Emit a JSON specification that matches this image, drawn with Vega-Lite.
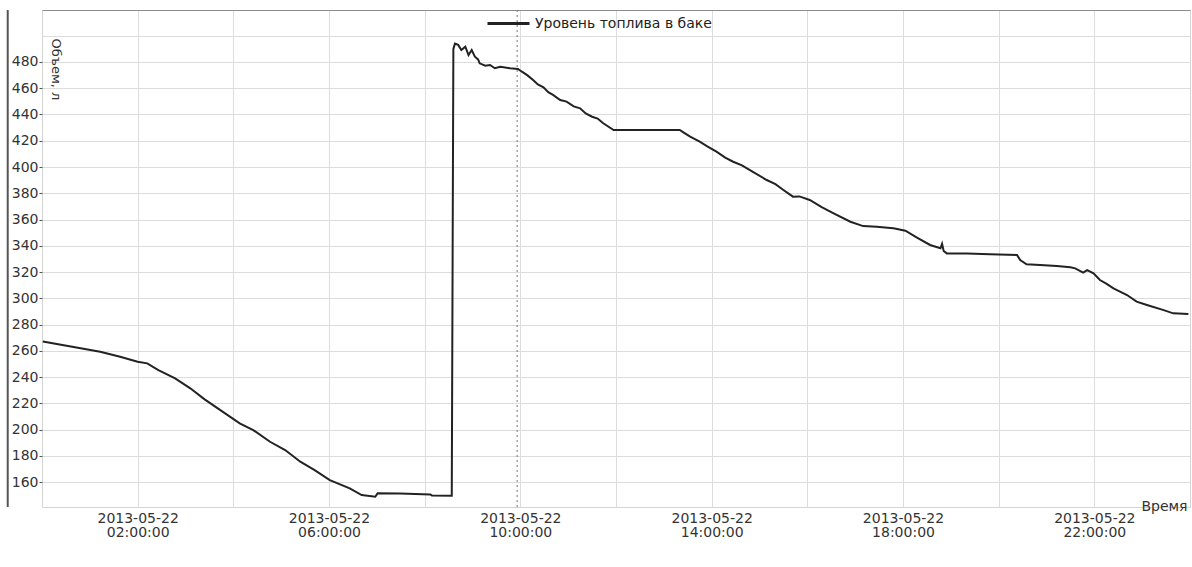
{
  "$schema": "https://vega.github.io/schema/vega-lite/v6.json",
  "width": 1148,
  "height": 497,
  "autosize": "none",
  "padding": {"left": 42, "top": 10, "right": 2, "bottom": 60},
  "background": "white",
  "config": {"view": {"stroke": "#d4d4d4"}, "font": "DejaVu Sans"},
  "layer": [
    {
      "data": {"values": [
        {"t": "2013-05-22T00:01:00", "v": 267.0, "s": "Уровень топлива в баке"},
        {"t": "2013-05-22T01:13:00", "v": 259.3, "s": "Уровень топлива в баке"},
        {"t": "2013-05-22T01:38:00", "v": 255.5, "s": "Уровень топлива в баке"},
        {"t": "2013-05-22T02:00:00", "v": 251.7, "s": "Уровень топлива в баке"},
        {"t": "2013-05-22T02:12:00", "v": 250.4, "s": "Уровень топлива в баке"},
        {"t": "2013-05-22T02:26:00", "v": 245.3, "s": "Уровень топлива в баке"},
        {"t": "2013-05-22T02:47:00", "v": 239.0, "s": "Уровень топлива в баке"},
        {"t": "2013-05-22T03:06:00", "v": 231.4, "s": "Уровень топлива в баке"},
        {"t": "2013-05-22T03:24:00", "v": 223.0, "s": "Уровень топлива в баке"},
        {"t": "2013-05-22T04:08:00", "v": 204.7, "s": "Уровень топлива в баке"},
        {"t": "2013-05-22T04:25:00", "v": 199.6, "s": "Уровень топлива в баке"},
        {"t": "2013-05-22T04:46:00", "v": 190.7, "s": "Уровень топлива в баке"},
        {"t": "2013-05-22T05:05:00", "v": 184.4, "s": "Уровень топлива в баке"},
        {"t": "2013-05-22T05:24:00", "v": 175.5, "s": "Уровень топлива в баке"},
        {"t": "2013-05-22T05:42:00", "v": 169.1, "s": "Уровень топлива в баке"},
        {"t": "2013-05-22T06:01:00", "v": 161.5, "s": "Уровень топлива в баке"},
        {"t": "2013-05-22T06:26:00", "v": 155.2, "s": "Уровень топлива в баке"},
        {"t": "2013-05-22T06:41:00", "v": 150.1, "s": "Уровень топлива в баке"},
        {"t": "2013-05-22T06:58:00", "v": 148.8, "s": "Уровень топлива в баке"},
        {"t": "2013-05-22T07:01:00", "v": 151.4, "s": "Уровень топлива в баке"},
        {"t": "2013-05-22T07:29:00", "v": 151.2, "s": "Уровень топлива в баке"},
        {"t": "2013-05-22T08:07:00", "v": 150.6, "s": "Уровень топлива в баке"},
        {"t": "2013-05-22T08:09:00", "v": 149.8, "s": "Уровень топлива в баке"},
        {"t": "2013-05-22T08:34:00", "v": 149.6, "s": "Уровень топлива в баке"},
        {"t": "2013-05-22T08:36:00", "v": 490.0, "s": "Уровень топлива в баке"},
        {"t": "2013-05-22T08:38:00", "v": 494.0, "s": "Уровень топлива в баке"},
        {"t": "2013-05-22T08:42:00", "v": 493.0, "s": "Уровень топлива в баке"},
        {"t": "2013-05-22T08:46:00", "v": 489.1, "s": "Уровень топлива в баке"},
        {"t": "2013-05-22T08:51:00", "v": 491.7, "s": "Уровень топлива в баке"},
        {"t": "2013-05-22T08:55:00", "v": 485.3, "s": "Уровень топлива в баке"},
        {"t": "2013-05-22T08:59:00", "v": 489.1, "s": "Уровень топлива в баке"},
        {"t": "2013-05-22T09:03:00", "v": 484.0, "s": "Уровень топлива в баке"},
        {"t": "2013-05-22T09:07:00", "v": 482.0, "s": "Уровень топлива в баке"},
        {"t": "2013-05-22T09:09:00", "v": 479.0, "s": "Уровень топлива в баке"},
        {"t": "2013-05-22T09:16:00", "v": 477.2, "s": "Уровень топлива в баке"},
        {"t": "2013-05-22T09:22:00", "v": 477.7, "s": "Уровень топлива в баке"},
        {"t": "2013-05-22T09:28:00", "v": 475.2, "s": "Уровень топлива в баке"},
        {"t": "2013-05-22T09:35:00", "v": 476.4, "s": "Уровень топлива в баке"},
        {"t": "2013-05-22T09:47:00", "v": 475.2, "s": "Уровень топлива в баке"},
        {"t": "2013-05-22T09:57:00", "v": 474.7, "s": "Уровень топлива в баке"},
        {"t": "2013-05-22T10:02:00", "v": 472.6, "s": "Уровень топлива в баке"},
        {"t": "2013-05-22T10:09:00", "v": 469.8, "s": "Уровень топлива в баке"},
        {"t": "2013-05-22T10:16:00", "v": 466.3, "s": "Уровень топлива в баке"},
        {"t": "2013-05-22T10:22:00", "v": 462.9, "s": "Уровень топлива в баке"},
        {"t": "2013-05-22T10:29:00", "v": 460.7, "s": "Уровень топлива в баке"},
        {"t": "2013-05-22T10:35:00", "v": 457.0, "s": "Уровень топлива в баке"},
        {"t": "2013-05-22T10:41:00", "v": 454.9, "s": "Уровень топлива в баке"},
        {"t": "2013-05-22T10:50:00", "v": 451.0, "s": "Уровень топлива в баке"},
        {"t": "2013-05-22T10:58:00", "v": 449.8, "s": "Уровень топлива в баке"},
        {"t": "2013-05-22T11:07:00", "v": 446.2, "s": "Уровень топлива в баке"},
        {"t": "2013-05-22T11:15:00", "v": 444.7, "s": "Уровень топлива в баке"},
        {"t": "2013-05-22T11:22:00", "v": 440.8, "s": "Уровень топлива в баке"},
        {"t": "2013-05-22T11:30:00", "v": 438.3, "s": "Уровень топлива в баке"},
        {"t": "2013-05-22T11:37:00", "v": 436.9, "s": "Уровень топлива в баке"},
        {"t": "2013-05-22T11:44:00", "v": 433.3, "s": "Уровень топлива в баке"},
        {"t": "2013-05-22T11:57:00", "v": 428.2, "s": "Уровень топлива в баке"},
        {"t": "2013-05-22T13:20:00", "v": 428.2, "s": "Уровень топлива в баке"},
        {"t": "2013-05-22T13:25:00", "v": 426.2, "s": "Уровень топлива в баке"},
        {"t": "2013-05-22T13:33:00", "v": 423.1, "s": "Уровень топлива в баке"},
        {"t": "2013-05-22T13:45:00", "v": 419.3, "s": "Уровень топлива в баке"},
        {"t": "2013-05-22T13:55:00", "v": 415.6, "s": "Уровень топлива в баке"},
        {"t": "2013-05-22T14:06:00", "v": 411.7, "s": "Уровень топлива в баке"},
        {"t": "2013-05-22T14:17:00", "v": 407.2, "s": "Уровень топлива в баке"},
        {"t": "2013-05-22T14:27:00", "v": 404.0, "s": "Уровень топлива в баке"},
        {"t": "2013-05-22T14:38:00", "v": 401.3, "s": "Уровень топлива в баке"},
        {"t": "2013-05-22T14:48:00", "v": 397.7, "s": "Уровень топлива в баке"},
        {"t": "2013-05-22T15:09:00", "v": 390.1, "s": "Уровень топлива в баке"},
        {"t": "2013-05-22T15:20:00", "v": 386.9, "s": "Уровень топлива в баке"},
        {"t": "2013-05-22T15:30:00", "v": 382.5, "s": "Уровень топлива в баке"},
        {"t": "2013-05-22T15:42:00", "v": 377.4, "s": "Уровень топлива в баке"},
        {"t": "2013-05-22T15:50:00", "v": 377.6, "s": "Уровень топлива в баке"},
        {"t": "2013-05-22T16:03:00", "v": 374.9, "s": "Уровень топлива в баке"},
        {"t": "2013-05-22T16:18:00", "v": 369.5, "s": "Уровень топлива в баке"},
        {"t": "2013-05-22T16:33:00", "v": 364.7, "s": "Уровень топлива в баке"},
        {"t": "2013-05-22T16:54:00", "v": 358.3, "s": "Уровень топлива в баке"},
        {"t": "2013-05-22T17:10:00", "v": 355.0, "s": "Уровень топлива в баке"},
        {"t": "2013-05-22T17:27:00", "v": 354.5, "s": "Уровень топлива в баке"},
        {"t": "2013-05-22T17:48:00", "v": 353.3, "s": "Уровень топлива в баке"},
        {"t": "2013-05-22T18:03:00", "v": 351.5, "s": "Уровень топлива в баке"},
        {"t": "2013-05-22T18:17:00", "v": 346.4, "s": "Уровень топлива в баке"},
        {"t": "2013-05-22T18:34:00", "v": 340.6, "s": "Уровень топлива в баке"},
        {"t": "2013-05-22T18:47:00", "v": 338.1, "s": "Уровень топлива в баке"},
        {"t": "2013-05-22T18:49:00", "v": 341.5, "s": "Уровень топлива в баке"},
        {"t": "2013-05-22T18:51:00", "v": 336.0, "s": "Уровень топлива в баке"},
        {"t": "2013-05-22T18:55:00", "v": 334.2, "s": "Уровень топлива в баке"},
        {"t": "2013-05-22T19:20:00", "v": 334.2, "s": "Уровень топлива в баке"},
        {"t": "2013-05-22T19:49:00", "v": 333.5, "s": "Уровень топлива в баке"},
        {"t": "2013-05-22T20:23:00", "v": 333.0, "s": "Уровень топлива в баке"},
        {"t": "2013-05-22T20:27:00", "v": 329.1, "s": "Уровень топлива в баке"},
        {"t": "2013-05-22T20:35:00", "v": 325.9, "s": "Уровень топлива в баке"},
        {"t": "2013-05-22T20:52:00", "v": 325.3, "s": "Уровень топлива в баке"},
        {"t": "2013-05-22T21:13:00", "v": 324.6, "s": "Уровень топлива в баке"},
        {"t": "2013-05-22T21:30:00", "v": 323.6, "s": "Уровень топлива в баке"},
        {"t": "2013-05-22T21:36:00", "v": 322.8, "s": "Уровень топлива в баке"},
        {"t": "2013-05-22T21:46:00", "v": 319.5, "s": "Уровень топлива в баке"},
        {"t": "2013-05-22T21:51:00", "v": 321.5, "s": "Уровень топлива в баке"},
        {"t": "2013-05-22T21:59:00", "v": 319.0, "s": "Уровень топлива в баке"},
        {"t": "2013-05-22T22:07:00", "v": 313.9, "s": "Уровень топлива в баке"},
        {"t": "2013-05-22T22:15:00", "v": 311.2, "s": "Уровень топлива в баке"},
        {"t": "2013-05-22T22:24:00", "v": 307.6, "s": "Уровень топлива в баке"},
        {"t": "2013-05-22T22:41:00", "v": 302.5, "s": "Уровень топлива в баке"},
        {"t": "2013-05-22T22:53:00", "v": 297.4, "s": "Уровень топлива в баке"},
        {"t": "2013-05-22T23:06:00", "v": 294.9, "s": "Уровень топлива в баке"},
        {"t": "2013-05-22T23:27:00", "v": 291.0, "s": "Уровень топлива в баке"},
        {"t": "2013-05-22T23:39:00", "v": 288.5, "s": "Уровень топлива в баке"},
        {"t": "2013-05-22T23:58:00", "v": 288.0, "s": "Уровень топлива в баке"}
      ]},
      "mark": {"type": "line", "strokeWidth": 2},
      "encoding": {
        "x": {
          "field": "t", "type": "temporal",
          "scale": {"domain": [{"year": 2013, "month": 5, "date": 22, "hours": 0}, {"year": 2013, "month": 5, "date": 23, "hours": 0}]},
          "axis": {
            "values": [
              {"year": 2013, "month": 5, "date": 22, "hours": 2},
              {"year": 2013, "month": 5, "date": 22, "hours": 4},
              {"year": 2013, "month": 5, "date": 22, "hours": 6},
              {"year": 2013, "month": 5, "date": 22, "hours": 8},
              {"year": 2013, "month": 5, "date": 22, "hours": 10},
              {"year": 2013, "month": 5, "date": 22, "hours": 12},
              {"year": 2013, "month": 5, "date": 22, "hours": 14},
              {"year": 2013, "month": 5, "date": 22, "hours": 16},
              {"year": 2013, "month": 5, "date": 22, "hours": 18},
              {"year": 2013, "month": 5, "date": 22, "hours": 20},
              {"year": 2013, "month": 5, "date": 22, "hours": 22}
            ],
            "labelExpr": "hours(datum.value) % 4 == 2 ? [timeFormat(datum.value, '%Y-%m-%d'), timeFormat(datum.value, '%H:%M:%S')] : ''",
            "grid": true, "gridColor": "#dcdcdc", "gridWidth": 1,
            "ticks": false, "domain": false,
            "labelFontSize": 14, "labelColor": "#333333", "labelPadding": 4, "labelLineHeight": 14,
            "labelOverlap": false, "labelFlush": false,
            "title": "Время", "titleFontSize": 14, "titleFontWeight": "normal", "titleColor": "#333333",
            "titleX": 1145, "titleY": 3, "titleAlign": "right", "titleBaseline": "alphabetic"
          }
        },
        "y": {
          "field": "v", "type": "quantitative",
          "scale": {"domain": [141, 519.6], "nice": false, "zero": false},
          "axis": {
            "values": [160, 180, 200, 220, 240, 260, 280, 300, 320, 340, 360, 380, 400, 420, 440, 460, 480, 500, 519.6],
            "labelExpr": "datum.value <= 480 ? format(datum.value, 'd') : ''",
            "labelOverlap": false, "labelFlush": false,
            "grid": true,
            "gridColor": {"condition": {"test": "datum.value > 510", "value": "#8c8c8c"}, "value": "#dcdcdc"},
            "tickOpacity": {"condition": {"test": "datum.value > 490", "value": 0}, "value": 1},
            "tickSize": 3, "tickColor": "#555555", "domain": false,
            "labelFontSize": 14, "labelColor": "#333333", "labelPadding": 1,
            "title": "Объем, л", "titleFontSize": 13, "titleFontWeight": "normal", "titleColor": "#333333",
            "titleAngle": 90, "titleX": 9, "titleY": 28, "titleAlign": "left", "titleBaseline": "alphabetic"
          }
        },
        "color": {
          "field": "s", "type": "nominal",
          "scale": {"range": ["#222222"]},
          "legend": {
            "orient": "none", "legendX": 444, "legendY": -9, "title": null, "padding": 0,
            "symbolType": "stroke", "symbolSize": 1764, "symbolStrokeWidth": 3,
            "labelFontSize": 14, "labelColor": "#222222", "labelOffset": 4, "labelLimit": 400
          }
        }
      }
    },
    {
      "data": {"values": [{"c": "2013-05-22T09:56:00"}]},
      "mark": {"type": "rule", "strokeDash": [2, 3], "color": "#777777", "strokeWidth": 1},
      "encoding": {"x": {"field": "c", "type": "temporal"}}
    },
    {
      "data": {"values": [{"f": "frame"}]},
      "mark": {"type": "rule", "color": "#555555", "strokeWidth": 2, "clip": false},
      "encoding": {
        "x": {"datum": {"year": 2013, "month": 5, "date": 21, "hours": 23, "minutes": 17}, "type": "temporal"}
      }
    }
  ]
}
